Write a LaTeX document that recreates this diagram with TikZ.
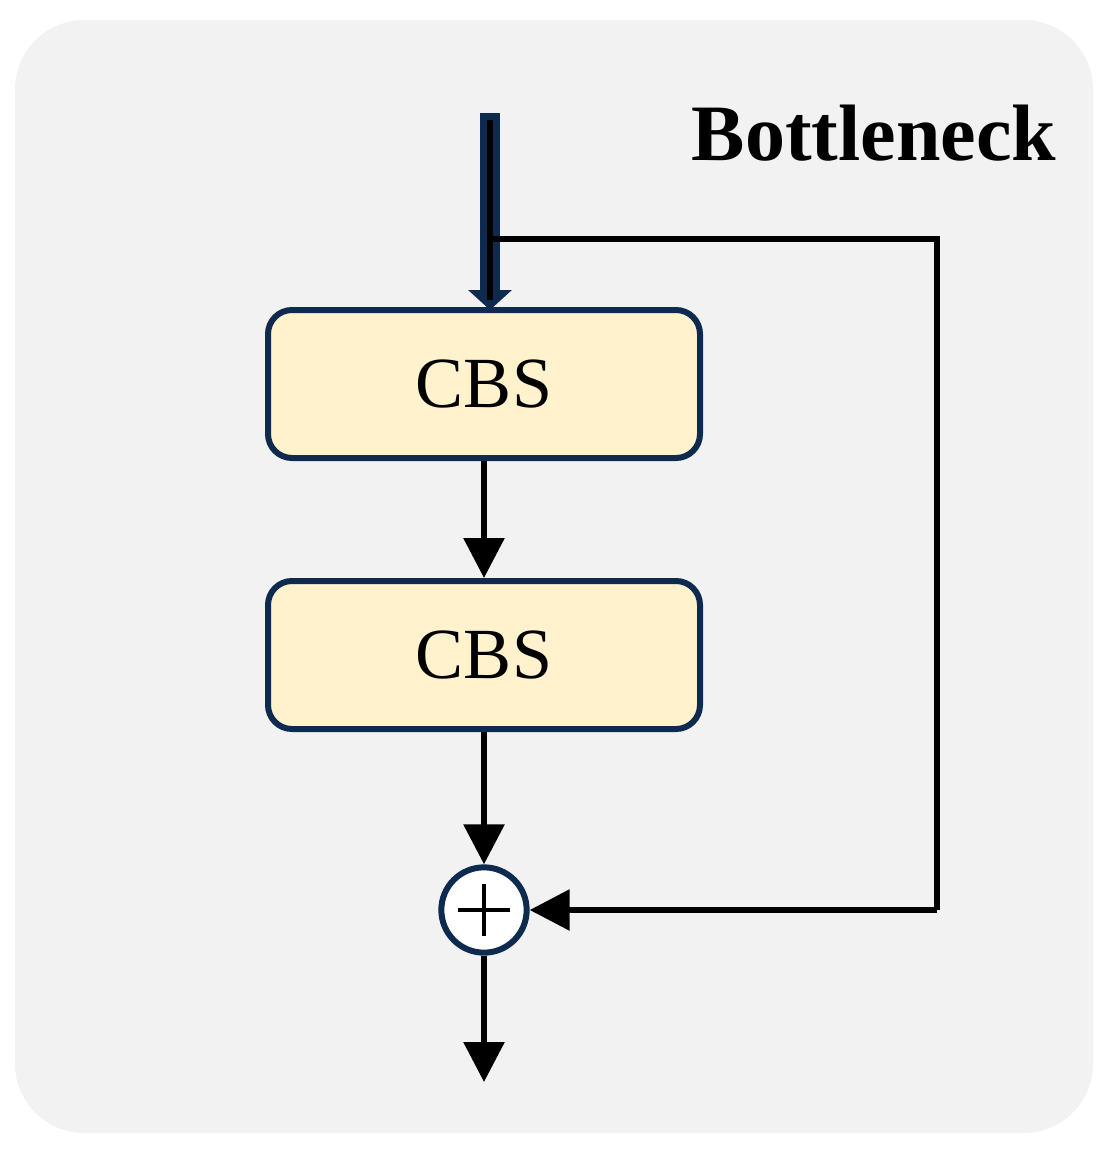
\documentclass[tikz,border=0pt]{standalone}
\usepackage{fontspec}
\setmainfont{Liberation Serif}
\usetikzlibrary{arrows.meta}
\definecolor{bg}{HTML}{F2F2F2}
\definecolor{nb}{HTML}{0E2A4E}
\definecolor{bx}{HTML}{FFF2CC}
\begin{document}
\begin{tikzpicture}[x=0.75pt,y=-0.75pt,
  box/.style={draw=nb,line width=4.5pt,fill=bx,rounded corners=18pt,minimum width=324pt,minimum height=111pt,font=\fontsize{54}{60}\selectfont,inner sep=0pt},
  ln/.style={line width=4.5pt,-{Triangle[width=30pt,length=30pt]}}]
\useasboundingbox (0,0) rectangle (1110,1153);
\fill[bg,rounded corners=52pt] (15,20) rectangle (1093,1133);
\node[font=\bfseries\fontsize{60}{66}\selectfont,anchor=base] (title) at (874,160) {Bottleneck};
\node[box] (c1) at (484,384) {CBS};
\node[box] (c2) at (484,655) {CBS};
\node[circle,draw=nb,line width=4.5pt,fill=white,minimum size=64pt,inner sep=0pt] (add) at (484,910) {};
\draw[line width=3.5pt] (add.center) ++(0,-26) -- ++(0,52) (add.center) ++(-26,0) -- ++(52,0);
\coordinate (top) at (490,113);
\coordinate (split) at (490,239);
\coordinate (out) at (484,1082);
\coordinate (rt) at (937,239);
\coordinate (rb) at (937,910);
\draw[nb,line width=15pt,-{Triangle[width=32pt,length=15pt]}] (top) -- (490,310);
\draw[line width=4pt] (490,120) -- (490,300);
\draw[line width=4.5pt] (split) -- (rt) -- (rb);
\draw[ln] (rb) -- (add.east);
\draw[ln] (c1.south) -- (c2.north);
\draw[ln] (c2.south) -- (add.north);
\draw[ln] (add.south) -- (out);
\end{tikzpicture}
\end{document}
